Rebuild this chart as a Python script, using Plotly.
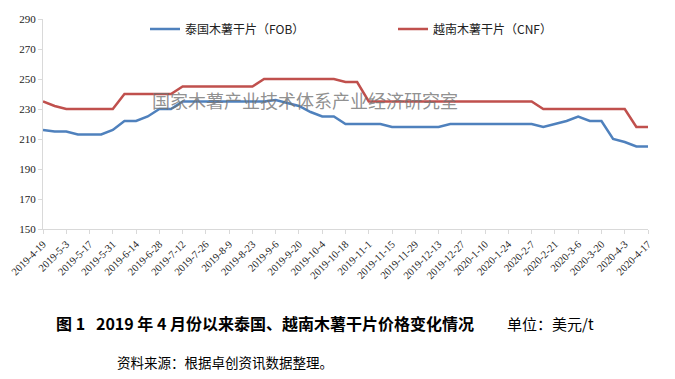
import datetime as dt
import plotly.graph_objects as go

# Weekly dates 2019-4-19 .. 2020-4-17
start = dt.date(2019, 4, 19)
dates = [start + dt.timedelta(days=7 * i) for i in range(53)]
date_labels = [f"{d.year}-{d.month}-{d.day}" for d in dates]

thai_fob = [216, 215, 215, 213, 213, 213, 216, 222, 222, 225,
            230, 230, 235, 235, 235, 235, 235, 235, 235, 235,
            236, 234, 232, 228, 225, 225, 220, 220, 220, 220,
            218, 218, 218, 218, 218, 220, 220, 220, 220, 220,
            220, 220, 220, 218, 220, 222, 225, 222, 222, 210,
            208, 205, 205]
vn_cnf = [235, 232, 230, 230, 230, 230, 230, 240, 240, 240,
          240, 240, 245, 245, 245, 245, 245, 245, 245, 250,
          250, 250, 250, 250, 250, 250, 248, 248, 235, 235,
          235, 235, 235, 235, 235, 235, 235, 235, 235, 235,
          235, 235, 235, 230, 230, 230, 230, 230, 230, 230,
          230, 218, 218]
tick_labels = date_labels[::2]
y_ticks = [150, 170, 190, 210, 230, 250, 270, 290]

series_names = ["泰国木薯干片（FOB）", "越南木薯干片（CNF）"]
title_text = "<b>图 1   2019 年 4 月份以来泰国、越南木薯干片价格变化情况</b>"
unit_text = "单位：美元/t"
source_text = "资料来源：根据卓创资讯数据整理。"
watermark = "国家木薯产业技术体系产业经济研究室"

W, H = 675, 379
L, R, T, B = 43, 27, 19, 150
PW, PH = W - L - R, H - T - B


def px(x):
    return (x - L) / PW


def py(y):
    return (H - B - y) / PH


fig = go.Figure()
fig.add_trace(go.Scatter(x=date_labels, y=thai_fob, mode="lines", name=series_names[0],
                         line=dict(color="#4f81bd", width=2.5)))
fig.add_trace(go.Scatter(x=date_labels, y=vn_cnf, mode="lines", name=series_names[1],
                         line=dict(color="#c0504d", width=2.5)))

serif = "Liberation Serif, Times New Roman, serif"
cjk = "Noto Sans CJK SC, sans-serif"

fig.update_layout(
    width=W, height=H,
    margin=dict(l=L, r=R, t=T, b=B, autoexpand=False),
    paper_bgcolor="white", plot_bgcolor="white",
    showlegend=True,
    legend=dict(orientation="h", x=px(145), y=py(29), xanchor="left", yanchor="middle",
                font=dict(family=cjk, size=12, color="#222"),
                entrywidth=203, entrywidthmode="pixels",
                itemwidth=30, bgcolor="rgba(0,0,0,0)"),
    xaxis=dict(type="category", range=[0, 52], tickmode="array", automargin=False,
               tickvals=tick_labels, ticktext=tick_labels, tickangle=-45,
               showgrid=False, showline=True, linecolor="#d9d9d9", linewidth=1,
               ticks="outside", ticklen=4, tickcolor="#d9d9d9",
               tickfont=dict(family=serif, size=10.5, color="#222")),
    yaxis=dict(range=[150, 290], tickvals=y_ticks, showgrid=False, zeroline=False,
               automargin=False,
               showline=True, linecolor="#d9d9d9", linewidth=1,
               ticks="outside", ticklen=4, tickcolor="#d9d9d9",
               tickfont=dict(family=serif, size=11, color="#222")),
)

fig.add_annotation(xref="paper", yref="paper", x=px(305), y=py(100),
                   text=watermark, showarrow=False,
                   font=dict(family=cjk, size=18, color="rgba(115,115,115,0.8)"))
fig.add_annotation(xref="paper", yref="paper", x=px(54), y=py(323),
                   xanchor="left", yanchor="middle", text=title_text, showarrow=False,
                   font=dict(family=cjk, size=16, color="#000"))
fig.add_annotation(xref="paper", yref="paper", x=px(505), y=py(323),
                   xanchor="left", yanchor="middle", text=unit_text, showarrow=False,
                   font=dict(family=cjk, size=15, color="#000"))
fig.add_annotation(xref="paper", yref="paper", x=px(115), y=py(362),
                   xanchor="left", yanchor="middle", text=source_text, showarrow=False,
                   font=dict(family=cjk, size=13.5, color="#000"))

fig.write_html("out.html", config={"displayModeBar": False},
               post_script="document.body.style.margin='0';")
